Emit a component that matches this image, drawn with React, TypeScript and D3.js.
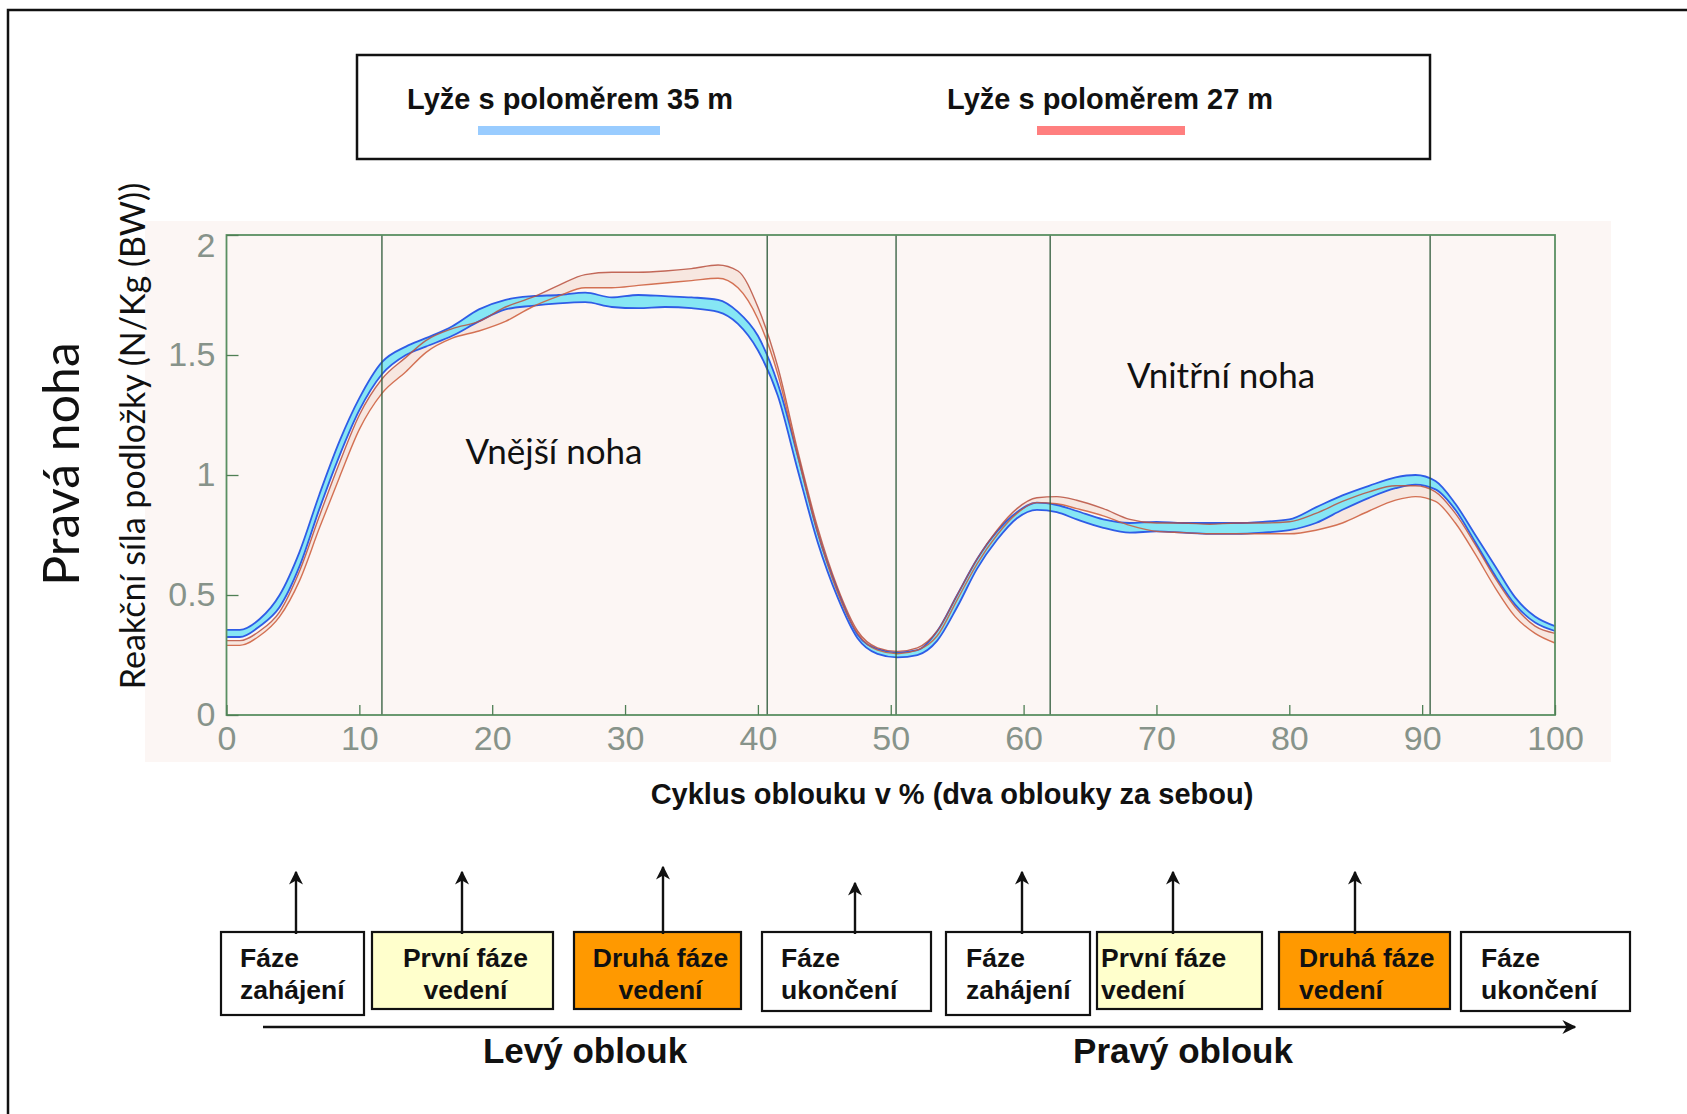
import React, { useEffect, useRef } from "react";
import * as d3 from "d3";

// percent of the turn cycle (x) where the curves were read
const cyclePct = [
  0, 1, 2.5, 4, 5.5, 7, 8.5, 10, 11.7, 13.5,
  15, 17, 19, 21, 23, 25, 27, 29, 31, 33,
  35, 37, 38.5, 40, 41.5, 43, 44.5, 46, 47.5, 49,
  50.5, 52, 53.5, 55, 56.5, 58, 59.5, 61, 62.5, 64,
  66, 68, 70, 72, 74, 76, 78, 80, 82, 84,
  86, 88, 89.5, 91, 92.5, 94, 95.5, 97, 98.5, 100,
];

// ski radius 35 m, upper / lower edge of the band
const ski35Upper = [
  0.355, 0.355, 0.4, 0.5, 0.68, 0.92, 1.14, 1.32, 1.47, 1.535,
  1.57, 1.62, 1.69, 1.73, 1.745, 1.75, 1.76, 1.74, 1.75, 1.745,
  1.74, 1.73, 1.68, 1.58, 1.38, 1.08, 0.76, 0.52, 0.335, 0.275,
  0.26, 0.27, 0.35, 0.5, 0.65, 0.765, 0.845, 0.885, 0.875, 0.85,
  0.815, 0.8, 0.805, 0.8, 0.8, 0.8, 0.805, 0.815, 0.865, 0.915,
  0.955, 0.99, 1.0, 0.975, 0.88, 0.75, 0.62, 0.49, 0.41, 0.37,
];
const ski35Lower = [
  0.325, 0.325, 0.37, 0.45, 0.62, 0.86, 1.08, 1.27, 1.42, 1.5,
  1.535, 1.58, 1.64, 1.69, 1.705, 1.715, 1.72, 1.7, 1.695, 1.7,
  1.695, 1.68, 1.63, 1.52, 1.33, 1.02, 0.72, 0.49, 0.32, 0.255,
  0.24, 0.25, 0.31, 0.45, 0.61, 0.73, 0.82, 0.855, 0.845, 0.815,
  0.78, 0.76, 0.765, 0.76, 0.755, 0.755, 0.76, 0.77, 0.8, 0.855,
  0.905, 0.945, 0.96, 0.94, 0.855, 0.72, 0.58, 0.46, 0.385, 0.35,
];

// ski radius 27 m, upper / lower edge of the band
const ski27Upper = [
  0.31, 0.31, 0.35, 0.43, 0.6, 0.83, 1.05, 1.25, 1.4, 1.49,
  1.56, 1.61, 1.64, 1.7, 1.74, 1.79, 1.835, 1.845, 1.845, 1.85,
  1.86, 1.875, 1.85, 1.7, 1.45, 1.1, 0.78, 0.53, 0.35, 0.28,
  0.265, 0.28, 0.35, 0.5, 0.65, 0.77, 0.86, 0.905, 0.91, 0.895,
  0.86, 0.815, 0.8, 0.8, 0.795, 0.8, 0.8, 0.805, 0.84, 0.89,
  0.93, 0.955, 0.955, 0.93, 0.84, 0.71, 0.57, 0.45, 0.37, 0.34,
];
const ski27Lower = [
  0.29, 0.29, 0.33, 0.41, 0.56, 0.78, 0.99, 1.19, 1.34, 1.43,
  1.51, 1.57, 1.6, 1.64, 1.7, 1.745, 1.78, 1.78, 1.79, 1.8,
  1.81, 1.82, 1.78, 1.65, 1.42, 1.08, 0.76, 0.51, 0.34, 0.27,
  0.255, 0.27, 0.33, 0.48, 0.63, 0.75, 0.84, 0.885, 0.88, 0.86,
  0.83, 0.79, 0.765, 0.76, 0.755, 0.755, 0.755, 0.755, 0.77, 0.8,
  0.85, 0.895, 0.91, 0.89, 0.8, 0.67, 0.53, 0.41, 0.34, 0.3,
];

const xTicks = [0, 10, 20, 30, 40, 50, 60, 70, 80, 90, 100];
const yTicks = [0, 0.5, 1, 1.5, 2];
const phaseLines = [11.7, 40.7, 50.4, 62, 90.6];

const legendLabels = ["Lyže s poloměrem 35 m", "Lyže s poloměrem 27 m"];
const phaseLabels = [
  ["Fáze", "zahájení"],
  ["První fáze", "vedení"],
  ["Druhá fáze", "vedení"],
  ["Fáze", "ukončení"],
  ["Fáze", "zahájení"],
  ["První fáze", "vedení"],
  ["Druhá fáze", "vedení"],
  ["Fáze", "ukončení"],
];
const turnLabels = ["Levý oblouk", "Pravý oblouk"];

// layout of the phase boxes below the chart
const boxLeft = [221, 372, 574, 762, 946, 1097, 1279, 1461];
const boxRight = [364, 553, 741, 931, 1090, 1262, 1450, 1630];
const boxBottom = [1015, 1009, 1009, 1011, 1015, 1009, 1009, 1011];
const boxFill = ["#ffffff", "#ffffcc", "#ff9900", "#ffffff", "#ffffff", "#ffffcc", "#ff9900", "#ffffff"];
const boxAlign = ["start", "middle", "middle", "start", "start", "start", "start", "start"];
const boxPad = [19, 0, 0, 19, 20, 4, 20, 20];
const arrowX = [296, 462, 663, 855, 1022, 1173, 1355];
const arrowTip = [872, 872, 867, 883, 872, 872, 872];

const W = 1687;
const H = 1114;
const plot = { left: 226.5, right: 1555, top: 235, bottom: 715 };

export default function App() {
  const ref = useRef<SVGSVGElement>(null);

  useEffect(() => {
    document.body.style.margin = "0";
    const svg = d3.select(ref.current);
    svg.selectAll("*").remove();

    const x = d3.scaleLinear().domain([0, 100]).range([plot.left, plot.right]);
    const y = d3.scaleLinear().domain([0, 2]).range([plot.bottom, plot.top]);

    const arial = "Liberation Sans, Arial, sans-serif";
    const calibri = "Lato, 'Open Sans', sans-serif";

    svg.append("rect").attr("width", W).attr("height", H).attr("fill", "#fff");

    // outer frame (only top and left are visible)
    svg
      .append("path")
      .attr("d", `M8,${H} L8,10 L${W},10`)
      .attr("fill", "none")
      .attr("stroke", "#111")
      .attr("stroke-width", 2.5);

    // legend
    const legend = svg.append("g");
    legend
      .append("rect")
      .attr("x", 357)
      .attr("y", 55)
      .attr("width", 1073)
      .attr("height", 104)
      .attr("fill", "#fff")
      .attr("stroke", "#111")
      .attr("stroke-width", 2.5);
    const legendX = [407, 947];
    const swatch = [
      { x0: 478, x1: 660, color: "#99ccff" },
      { x0: 1037, x1: 1185, color: "#ff7f7f" },
    ];
    legendLabels.forEach((t, i) => {
      legend
        .append("text")
        .attr("x", legendX[i])
        .attr("y", 109)
        .attr("font-family", arial)
        .attr("font-weight", "bold")
        .attr("font-size", 29)
        .attr("fill", "#111")
        .text(t);
      legend
        .append("rect")
        .attr("x", swatch[i].x0)
        .attr("y", 126)
        .attr("width", swatch[i].x1 - swatch[i].x0)
        .attr("height", 9)
        .attr("fill", swatch[i].color);
    });

    // pale scanned panel behind the plot
    svg
      .append("rect")
      .attr("x", 145)
      .attr("y", 221)
      .attr("width", 1466)
      .attr("height", 541)
      .attr("fill", "#fcf6f4");

    // bands
    const area = (lo: number[], hi: number[]) =>
      d3
        .area<number>()
        .x((d) => x(d))
        .y0((_, i) => y(lo[i]))
        .y1((_, i) => y(hi[i]))
        .curve(d3.curveMonotoneX)(cyclePct);
    const line = (vals: number[]) =>
      d3
        .line<number>()
        .x((d) => x(d))
        .y((_, i) => y(vals[i]))
        .curve(d3.curveMonotoneX)(cyclePct);

    svg.append("path").attr("d", area(ski27Lower, ski27Upper)).attr("fill", "#f7e7e0");
    svg.append("path").attr("d", area(ski35Lower, ski35Upper)).attr("fill", "#86e6f4");

    [ski35Upper, ski35Lower].forEach((s) => {
      svg
        .append("path")
        .attr("d", line(s))
        .attr("fill", "none")
        .attr("stroke", "#2f5ce6")
        .attr("stroke-width", 1.8);
    });
    [ski27Upper, ski27Lower].forEach((s, i) => {
      svg
        .append("path")
        .attr("d", line(s))
        .attr("fill", "none")
        .attr("stroke", i === 0 ? "#b8503e" : "#cc5a38")
        .attr("stroke-opacity", 0.85)
        .attr("stroke-width", 1.4);
    });

    // phase separators
    svg
      .append("g")
      .selectAll("line")
      .data(phaseLines)
      .join("line")
      .attr("x1", (d) => x(d))
      .attr("x2", (d) => x(d))
      .attr("y1", plot.top)
      .attr("y2", plot.bottom)
      .attr("stroke", "#2f5a3a")
      .attr("stroke-width", 1.3);

    // plot frame
    svg
      .append("rect")
      .attr("x", plot.left)
      .attr("y", plot.top)
      .attr("width", plot.right - plot.left)
      .attr("height", plot.bottom - plot.top)
      .attr("fill", "none")
      .attr("stroke", "#5a8f62")
      .attr("stroke-width", 1.8);

    // axes
    const xAxis = svg
      .append("g")
      .attr("transform", `translate(0, ${plot.bottom})`)
      .call(
        d3
          .axisBottom(x)
          .tickValues(xTicks)
          .tickSize(-10)
          .tickPadding(11)
          .tickFormat((d) => String(d))
      );
    const yAxis = svg
      .append("g")
      .attr("transform", `translate(${plot.left}, 0)`)
      .call(
        d3
          .axisLeft(y)
          .tickValues(yTicks)
          .tickSize(-12)
          .tickPadding(11)
          .tickFormat((d) => String(d))
      );
    [xAxis, yAxis].forEach((a) => {
      a.select(".domain").remove();
      a.selectAll(".tick line").attr("stroke", "#4f7f55").attr("stroke-width", 1.3);
      a.selectAll(".tick text")
        .attr("fill", "#87938a")
        .attr("font-family", arial)
        .attr("font-size", 34);
    });
    // the top label sits a little below its tick in the original
    yAxis.selectAll(".tick text").filter((d) => d === 2).attr("dy", "0.62em");

    // annotations inside the plot
    svg
      .append("text")
      .attr("x", 554)
      .attr("y", 464)
      .attr("text-anchor", "middle")
      .attr("font-family", calibri)
      .attr("font-size", 35)
      .attr("fill", "#111")
      .text("Vnější noha");
    svg
      .append("text")
      .attr("x", 1221)
      .attr("y", 388)
      .attr("text-anchor", "middle")
      .attr("font-family", calibri)
      .attr("font-size", 35)
      .attr("fill", "#111")
      .text("Vnitřní noha");

    // y titles
    svg
      .append("text")
      .attr("transform", `translate(79, 464) rotate(-90)`)
      .attr("text-anchor", "middle")
      .attr("font-family", calibri)
      .attr("font-size", 50)
      .attr("fill", "#111")
      .text("Pravá noha");
    svg
      .append("text")
      .attr("transform", `translate(145, 436) rotate(-90)`)
      .attr("text-anchor", "middle")
      .attr("font-family", calibri)
      .attr("font-size", 34)
      .attr("fill", "#111")
      .text("Reakční síla podložky (N/Kg (BW))");

    // x title
    svg
      .append("text")
      .attr("x", 952)
      .attr("y", 804)
      .attr("text-anchor", "middle")
      .attr("font-family", arial)
      .attr("font-weight", "bold")
      .attr("font-size", 29)
      .attr("fill", "#111")
      .text("Cyklus oblouku v % (dva oblouky za sebou)");

    // arrow marker
    svg
      .append("defs")
      .append("marker")
      .attr("id", "head")
      .attr("viewBox", "0 0 10 10")
      .attr("refX", 9)
      .attr("refY", 5)
      .attr("markerWidth", 14)
      .attr("markerHeight", 14)
      .attr("markerUnits", "userSpaceOnUse")
      .attr("orient", "auto")
      .append("path")
      .attr("d", "M0,0 L10,5 L0,10 L3,5 Z")
      .attr("fill", "#111");

    // phase boxes
    const boxes = svg.append("g");
    phaseLabels.forEach((lbl, i) => {
      const x0 = boxLeft[i];
      const x1 = boxRight[i];
      boxes
        .append("rect")
        .attr("x", x0)
        .attr("y", 932)
        .attr("width", x1 - x0)
        .attr("height", boxBottom[i] - 932)
        .attr("fill", boxFill[i])
        .attr("stroke", "#111")
        .attr("stroke-width", 2.2);
      const tx = boxAlign[i] === "middle" ? (x0 + x1) / 2 + 3 : x0 + boxPad[i];
      lbl.forEach((t, j) => {
        boxes
          .append("text")
          .attr("x", tx)
          .attr("y", 967 + j * 32)
          .attr("text-anchor", boxAlign[i])
          .attr("font-family", arial)
          .attr("font-weight", "bold")
          .attr("font-size", 26.5)
          .attr("fill", "#111")
          .text(t);
      });
    });

    arrowX.forEach((ax, i) => {
      boxes
        .append("line")
        .attr("x1", ax)
        .attr("x2", ax)
        .attr("y1", 934)
        .attr("y2", arrowTip[i])
        .attr("stroke", "#111")
        .attr("stroke-width", 2.4)
        .attr("marker-end", "url(#head)");
    });

    // long arrow and turn labels
    svg
      .append("line")
      .attr("x1", 263)
      .attr("x2", 1575)
      .attr("y1", 1027)
      .attr("y2", 1027)
      .attr("stroke", "#111")
      .attr("stroke-width", 2.4)
      .attr("marker-end", "url(#head)");
    const turnX = [585, 1183];
    turnLabels.forEach((t, i) => {
      svg
        .append("text")
        .attr("x", turnX[i])
        .attr("y", 1063)
        .attr("text-anchor", "middle")
        .attr("font-family", arial)
        .attr("font-weight", "bold")
        .attr("font-size", 35)
        .attr("fill", "#111")
        .text(t);
    });
  }, []);

  return <svg ref={ref} width={W} height={H} style={{ display: "block" }} />;
}
